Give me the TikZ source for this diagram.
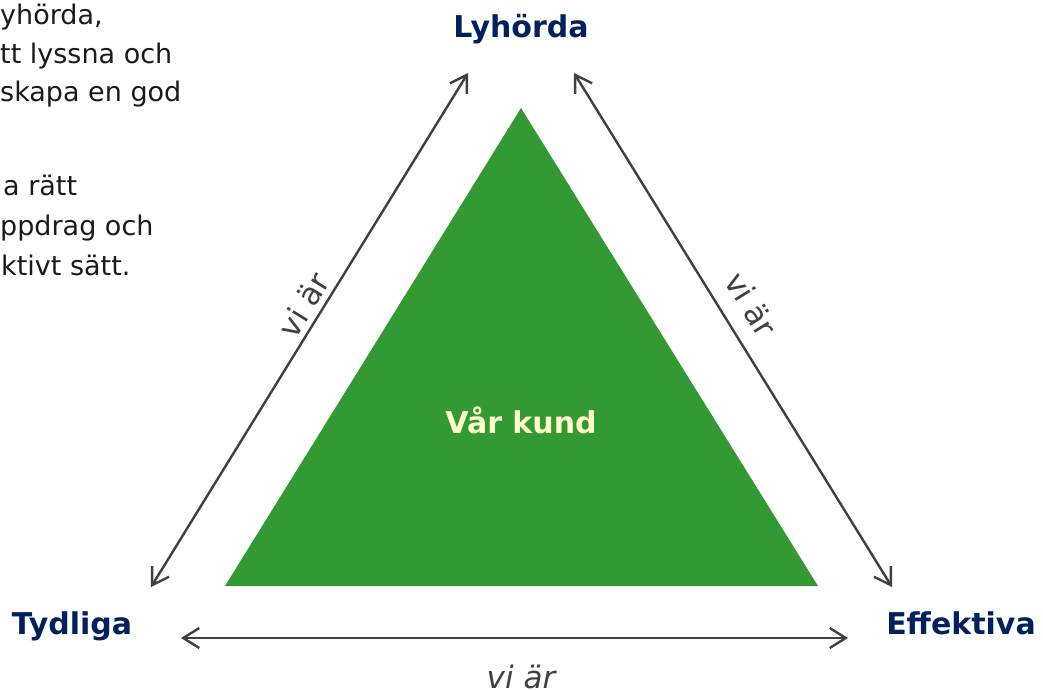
\documentclass[tikz,border=0pt]{standalone}
\usepackage{fontspec}
\setmainfont{DejaVu Sans}
\usetikzlibrary{arrows.meta}

\definecolor{navy}{HTML}{002060}
\definecolor{kundgreen}{HTML}{339933}
\definecolor{kundtext}{HTML}{FFFFCC}
\definecolor{arrowgray}{HTML}{404040}
\definecolor{bodytext}{HTML}{1A1A1A}

\begin{document}
\begin{tikzpicture}[
            x=1pt,
            y=-1pt,
            corner/.style={
                anchor=base,
                inner sep=0pt,
                text=navy,
                font=\fontsize{30}{34}\selectfont\bfseries
            },
            relation/.style={
                draw=arrowgray,
                line width=2.4pt,
                {Straight Barb[length=16pt,width=20pt]}-{Straight Barb[length=16pt,width=20pt]}
            },
            viar/.style={
                text=arrowgray,
                font=\fontsize{31}{34}\selectfont
            },
            body/.style={
                anchor=base west,
                inner sep=0pt,
                text=bodytext,
                font=\fontsize{27}{30}\selectfont
            }
        ]

            \useasboundingbox (0, 0) rectangle (1043, 689);

            % text cut by the left edge
            \node[body] (t1) at (0, 24) {yhörda,};
            \node[body] (t2) at (0, 63) {tt lyssna och};
            \node[body] (t3) at (0, 101) {skapa en god};
            \node[body] (t4) at (3, 195) {a rätt};
            \node[body] (t5) at (0, 235) {ppdrag och};
            \node[body] (t6) at (1, 275) {ktivt sätt.};

            % triangle
            \coordinate (apex) at (521, 108);
            \coordinate (baseL) at (225, 586);
            \coordinate (baseR) at (818, 586);
            \fill[kundgreen] (apex) -- (baseL) -- (baseR) -- cycle;

            \node[anchor=base, inner sep=0pt, text=kundtext,
                font=\fontsize{30}{34}\selectfont\bfseries] (kund) at (521, 433) {Vår kund};

            \node[corner] (lyh) at (521, 37) {Lyhörda};
            \node[corner] (tyd) at (72, 634) {Tydliga};
            \node[corner] (eff) at (961, 634) {Effektiva};

            \coordinate (l1) at (151, 587);
            \coordinate (l2) at (468, 73);
            \coordinate (r1) at (574, 73);
            \coordinate (r2) at (892, 587);
            \coordinate (b1) at (181, 638);
            \coordinate (b2) at (848, 638);

            \draw[relation] (l1) -- (l2)
                node[pos=0.53, sloped, above, inner sep=5pt, viar] {vi är};
            \draw[relation] (r1) -- (r2)
                node[pos=0.48, sloped, above, inner sep=16pt, viar] {vi är};
            \draw[relation] (b1) -- (b2);

            \node[anchor=base, inner sep=0pt, text=arrowgray,
                font=\fontsize{31}{34}\selectfont\itshape] (vb) at (521, 688) {vi är};

        \end{tikzpicture}
\end{document}
